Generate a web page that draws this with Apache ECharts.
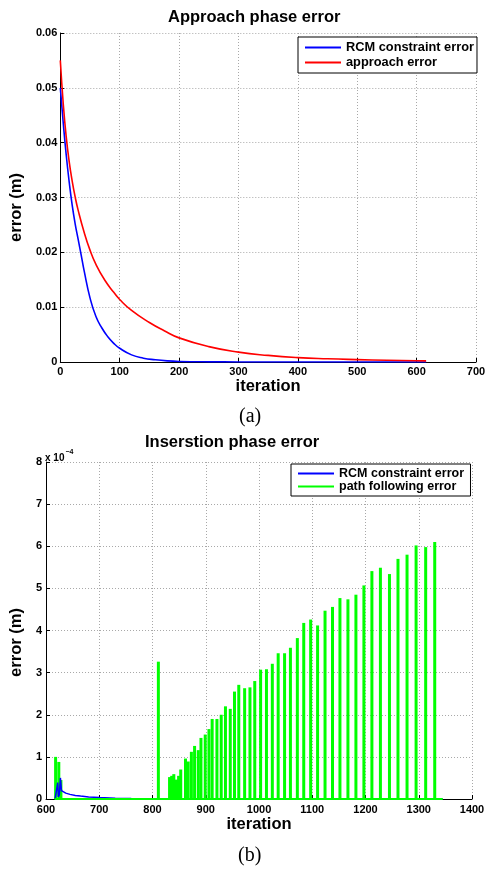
<!DOCTYPE html>
<html>
<head>
<meta charset="utf-8">
<script src="https://cdn.jsdelivr.net/npm/echarts@6/dist/echarts.min.js"></script>
<style>
html,body{margin:0;padding:0;background:#fff;}
#c{width:491px;height:870px;}
</style>
</head>
<body>
<div id="c"></div>
<script>
// ---- Top chart: approach phase (error in m) ----
const approachIter = [0, 5, 10, 15, 20, 25, 30, 40, 50, 60, 75, 90, 100, 120, 150, 175, 200, 250, 300, 350, 400, 450, 500, 550, 600, 616];
const approachErr  = [0.0550, 0.0470, 0.0410, 0.0365, 0.0330, 0.0301, 0.0277, 0.0237, 0.0204, 0.0178, 0.0149, 0.0127, 0.0114, 0.0094, 0.0072, 0.0057, 0.0044, 0.0028, 0.0018, 0.0012, 0.0008, 0.00058, 0.00043, 0.00031, 0.00022, 0.0002];
const rcmIterA = [0, 5, 10, 15, 20, 25, 30, 35, 40, 50, 60, 70, 80, 90, 100, 120, 140, 160, 180, 200, 250, 300, 400, 500, 616];
const rcmErrA  = [0.0500, 0.0435, 0.0377, 0.0328, 0.0286, 0.0252, 0.0224, 0.0196, 0.0167, 0.0117, 0.0083, 0.0062, 0.0046, 0.0034, 0.0025, 0.0013, 0.0007, 0.0004, 0.0002, 0.0001, 0.00003, 0.00001, 0, 0, 0];
const xTicksA = [0, 100, 200, 300, 400, 500, 600, 700];
const yTicksA = [0, 0.01, 0.02, 0.03, 0.04, 0.05, 0.06];

// ---- Bottom chart: insertion phase (error in units of 1e-4 m) ----
const rcmIterB = [617, 620, 622, 623, 625, 627, 629, 632, 637, 645, 655, 665, 680, 700, 730, 760, 800, 900, 1000, 1100, 1200, 1345];
const rcmErrB  = [0, 0, 0.39, 0.05, 0.10, 0.50, 0.20, 0.17, 0.14, 0.11, 0.085, 0.07, 0.05, 0.035, 0.02, 0.012, 0.008, 0.004, 0.002, 0.001, 0.0005, 0];
const pathIter = [618, 624, 628, 811, 832, 836, 840, 845, 849, 853, 862, 867, 873, 879, 886, 891, 899, 906, 912, 921, 929, 937, 946, 954, 962, 973, 983, 992, 1003, 1014, 1025, 1036, 1048, 1059, 1072, 1084, 1097, 1110, 1124, 1138, 1152, 1167, 1182, 1197, 1212, 1228, 1245, 1261, 1278, 1295, 1313, 1330];
const pathErr  = [1.0, 0.88, 0.45, 3.26, 0.52, 0.55, 0.59, 0.46, 0.55, 0.70, 0.96, 0.89, 1.12, 1.26, 1.16, 1.45, 1.53, 1.66, 1.90, 1.90, 2.00, 2.20, 2.14, 2.55, 2.71, 2.63, 2.65, 2.80, 3.07, 3.08, 3.21, 3.46, 3.46, 3.59, 3.82, 4.18, 4.26, 4.12, 4.47, 4.56, 4.77, 4.74, 4.85, 5.07, 5.41, 5.49, 5.34, 5.70, 5.80, 6.02, 5.98, 6.10];
const pathBaseIter = [616, 1345];
const pathBaseErr  = [0, 0];
const xTicksB = [600, 700, 800, 900, 1000, 1100, 1200, 1300, 1400];
const yTicksB = [0, 1, 2, 3, 4, 5, 6, 7, 8];

const zip = (a, b) => a.map((v, i) => [v, b[i]]);
const FONT = 'Liberation Sans, Arial, sans-serif';
const LABEL = {color: '#000', fontFamily: FONT, fontWeight: 'bold', fontSize: 11};

function axisCommon(extra) {
  return Object.assign({
    type: 'value',
    axisLine: {show: true, onZero: false, lineStyle: {color: '#000', width: 1}},
    axisTick: {show: true, inside: true, length: 4, lineStyle: {color: '#000'}},
    splitLine: {show: true, lineStyle: {color: '#a8a8a8', type: [1, 2], width: 1}},
    nameLocation: 'middle',
    nameTextStyle: {color: '#000', fontFamily: FONT, fontWeight: 'bold', fontSize: 16.5}
  }, extra);
}

const chart = echarts.init(document.getElementById('c'), null, {renderer: 'canvas'});
chart.setOption({
  animation: false,
  backgroundColor: '#fff',
  title: [
    {text: 'Approach phase error', left: 168, top: 9, padding: 0,
     textStyle: {fontFamily: FONT, fontWeight: 'bold', fontSize: 16.5, color: '#000'}},
    {text: 'Inserstion phase error', left: 145, top: 434, padding: 0,
     textStyle: {fontFamily: FONT, fontWeight: 'bold', fontSize: 16.5, color: '#000'}},
    {text: '(a)', left: 239, top: 407, padding: 0,
     textStyle: {fontFamily: 'Liberation Serif, Times New Roman, serif', fontWeight: 'normal', fontSize: 20, color: '#000'}},
    {text: '(b)', left: 238, top: 846, padding: 0,
     textStyle: {fontFamily: 'Liberation Serif, Times New Roman, serif', fontWeight: 'normal', fontSize: 20, color: '#000'}},
    {text: '{a|x 10}{b|−4}', left: 45, top: 449, padding: 0,
     textStyle: {rich: {
       a: {fontFamily: FONT, fontWeight: 'bold', fontSize: 10, color: '#000', lineHeight: 14, verticalAlign: 'bottom'},
       b: {fontFamily: FONT, fontWeight: 'bold', fontSize: 7, color: '#000', lineHeight: 14, verticalAlign: 'top', padding: [0, 0, 0, 1]}
     }}}
  ],
  legend: [
    {orient: 'vertical', left: 298, top: 37, padding: [3, 3, 3, 7], itemGap: 0,
     itemWidth: 36, itemHeight: 2, icon: 'rect',
     borderColor: '#000', borderWidth: 1, backgroundColor: '#fff',
     textStyle: {fontFamily: FONT, fontWeight: 'bold', fontSize: 12.8, color: '#000', lineHeight: 15},
     data: ['RCM constraint error', 'approach error']},
    {orient: 'vertical', left: 291, top: 464, padding: [3, 3, 3, 7], itemGap: 0,
     itemWidth: 36, itemHeight: 2, icon: 'rect',
     borderColor: '#000', borderWidth: 1, backgroundColor: '#fff',
     textStyle: {fontFamily: FONT, fontWeight: 'bold', fontSize: 12.5, color: '#000', lineHeight: 11.5},
     data: ['RCM constraint error ', 'path following error']}
  ],
  grid: [
    {left: 59, right: 15, top: 33, height: 329, containLabel: false},
    {left: 44, right: 19, top: 462, height: 337, containLabel: false}
  ],
  xAxis: [
    axisCommon({gridIndex: 0, min: xTicksA[0], max: xTicksA[xTicksA.length - 1], interval: xTicksA[1] - xTicksA[0],
      name: 'iteration', nameGap: 13, axisLabel: Object.assign({margin: 4, formatter: v => String(v)}, LABEL)}),
    axisCommon({gridIndex: 1, min: xTicksB[0], max: xTicksB[xTicksB.length - 1], interval: xTicksB[1] - xTicksB[0],
      name: 'iteration', nameGap: 14, axisLabel: Object.assign({margin: 5, formatter: v => String(v)}, LABEL)})
  ],
  yAxis: [
    axisCommon({gridIndex: 0, min: yTicksA[0], max: yTicksA[yTicksA.length - 1], interval: yTicksA[1] - yTicksA[0],
      name: 'error (m)', nameGap: 27, nameRotate: 90,
      nameTextStyle: {color: '#000', fontFamily: FONT, fontWeight: 'bold', fontSize: 16.5, padding: [0, 20, 0, 0]},
      axisLabel: Object.assign({margin: 3, formatter: v => String(+v.toFixed(2))}, LABEL)}),
    axisCommon({gridIndex: 1, min: yTicksB[0], max: yTicksB[yTicksB.length - 1], interval: yTicksB[1] - yTicksB[0],
      name: 'error (m)', nameGap: 13, nameRotate: 90,
      nameTextStyle: {color: '#000', fontFamily: FONT, fontWeight: 'bold', fontSize: 16.5, padding: [0, 24, 0, 0]},
      axisLabel: Object.assign({margin: 4, formatter: v => String(v)}, LABEL)})
  ],
  series: [
    {name: 'RCM constraint error', type: 'line', xAxisIndex: 0, yAxisIndex: 0, symbol: 'none',
     smooth: 0.5, color: '#0000ff', lineStyle: {color: '#0000ff', width: 1.6},
     data: zip(rcmIterA, rcmErrA)},
    {name: 'approach error', type: 'line', xAxisIndex: 0, yAxisIndex: 0, symbol: 'none',
     smooth: 0.5, color: '#ff0000', lineStyle: {color: '#ff0000', width: 1.6},
     data: zip(approachIter, approachErr)},
    {name: 'RCM constraint error ', type: 'line', xAxisIndex: 1, yAxisIndex: 1, symbol: 'none',
     color: '#0000ff', lineStyle: {color: '#0000ff', width: 1.5},
     data: zip(rcmIterB, rcmErrB)},
    {name: 'path following error', type: 'line', xAxisIndex: 1, yAxisIndex: 1, symbol: 'none',
     color: '#00ff00', lineStyle: {color: '#00ff00', width: 2},
     data: zip(pathBaseIter, pathBaseErr)},
    {name: 'path following error', type: 'bar', xAxisIndex: 1, yAxisIndex: 1,
     barWidth: 3, color: '#00ff00', itemStyle: {color: '#00ff00'},
     data: zip(pathIter, pathErr)}
  ]
});
</script>
</body>
</html>
